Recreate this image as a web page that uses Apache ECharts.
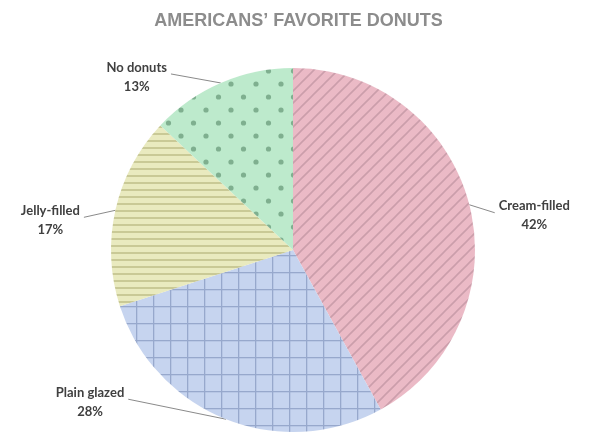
<!DOCTYPE html>
<html>
<head>
<meta charset="utf-8">
<script src="https://cdn.jsdelivr.net/npm/echarts@6/dist/echarts.min.js"></script>
<style>
  html, body { margin: 0; padding: 0; background: #ffffff; }
  #chart { width: 597px; height: 439px; }
</style>
</head>
<body>
<div id="chart"></div>
<script>
// Survey results, clockwise from 12 o'clock
const categories = ['Cream-filled', 'Plain glazed', 'Jelly-filled', 'No donuts'];
const shares = [42, 28, 17, 13];
const chartTitle = 'AMERICANS\u2019 FAVORITE DONUTS';

// Fill patterns drawn onto small repeating canvases
function makeTile(w, h, draw) {
  const c = document.createElement('canvas');
  c.width = w; c.height = h;
  draw(c.getContext('2d'), w, h);
  return { image: c, repeat: 'repeat' };
}

const diagonalPink = makeTile(12, 12, (g, w, h) => {
  g.fillStyle = '#ebbac6'; g.fillRect(0, 0, w, h);
  g.strokeStyle = '#cb9eab'; g.lineWidth = 1.6;
  g.beginPath();
  g.moveTo(-w, 2 * h); g.lineTo(2 * w, -h);
  g.moveTo(-w, h); g.lineTo(w, -h);
  g.moveTo(0, 2 * h); g.lineTo(2 * w, 0);
  g.stroke();
});

const gridBlue = makeTile(17, 17, (g, w, h) => {
  g.fillStyle = '#c6d4ef'; g.fillRect(0, 0, w, h);
  g.fillStyle = '#97a8cc';
  g.fillRect(0, 0, w, 1.3);
  g.fillRect(0, 0, 1.3, h);
});

const stripeYellow = makeTile(7, 7, (g, w, h) => {
  g.fillStyle = '#e9eabf'; g.fillRect(0, 0, w, h);
  g.fillStyle = '#c9c996';
  g.fillRect(0, 0, w, 2);
});

const dotGreen = makeTile(25, 26, (g, w, h) => {
  g.fillStyle = '#bdeacc'; g.fillRect(0, 0, w, h);
  g.fillStyle = '#7faf8f';
  g.beginPath(); g.arc(6, 6, 2.6, 0, Math.PI * 2); g.fill();
  g.beginPath(); g.arc(18.5, 19, 2.6, 0, Math.PI * 2); g.fill();
});

const fills = [diagonalPink, gridBlue, stripeYellow, dotGreen];

// Label placement relative to each slice's outer-edge anchor
const labelShift = [[65, 11], [-136, -17], [-65, 10], [-84, -6]];

const chart = echarts.init(document.getElementById('chart'), null, { renderer: 'canvas' });

chart.setOption({
  animation: false,
  backgroundColor: '#ffffff',
  title: {
    text: chartTitle,
    left: 'center',
    top: 7,
    textStyle: {
      fontFamily: 'Liberation Sans, Arial, sans-serif',
      fontSize: 18,
      fontWeight: 'bold',
      color: '#8c8c8c'
    }
  },
  series: [{
    type: 'pie',
    center: [293, 250],
    radius: 182,
    startAngle: 90,
    clockwise: true,
    avoidLabelOverlap: false,
    emphasis: { disabled: true },
    itemStyle: { borderWidth: 0 },
    label: {
      show: true,
      position: 'outside',
      formatter: '{b}\n{c}%',
      fontFamily: 'Lato, sans-serif',
      fontWeight: 'bold',
      fontSize: 13,
      lineHeight: 19,
      color: '#404040'
    },
    labelLine: {
      show: true,
      length: 10,
      length2: 10,
      lineStyle: { color: '#8a8a8a', width: 1 }
    },
    labelLayout: function (params) {
      const p0 = params.labelLinePoints[0];
      const s = labelShift[params.dataIndex];
      const x = p0[0] + s[0];
      const y = p0[1] + s[1];
      const half = params.labelRect.width / 2 + 4;
      const endX = s[0] > 0 ? x - half : x + half;
      const end = [endX, y - 3];
      return {
        x: x,
        y: y,
        align: 'center',
        verticalAlign: 'middle',
        labelLinePoints: [p0, end, end]
      };
    },
    data: categories.map((name, i) => ({
      name: name,
      value: shares[i],
      itemStyle: { color: fills[i] }
    }))
  }]
});
</script>
</body>
</html>
